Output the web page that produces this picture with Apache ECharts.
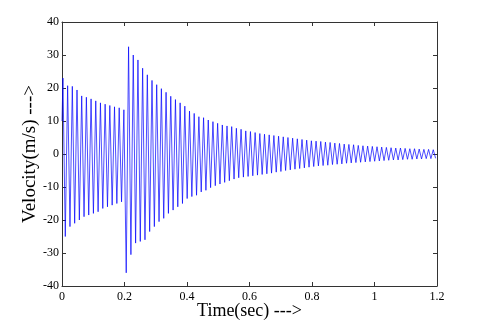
<!DOCTYPE html>
<html>
<head>
<meta charset="utf-8">
<script src="https://cdn.jsdelivr.net/npm/echarts@6/dist/echarts.min.js"></script>
<style>html,body{margin:0;padding:0;background:#fff}#c{width:480px;height:321px}</style>
</head>
<body>
<div id="c"></div>
<script>
// Sampling of the oscillation: extremes alternate peak/trough every half period
const startValue = 10;          // value at t = 0
const firstPeakTime = 0.003;    // s
const halfPeriod = 0.0075;      // s between a peak and the next trough
// Peak value of each cycle (m/s)
const peaks = [23, 20.7, 20.5, 19.4, 17.6, 17.2, 16.7, 16.1, 15.5, 15.1, 14.7, 14.3, 14, 13.4,
  32.5, 30, 28.5, 26, 24, 22.3, 21, 19.8, 18.7, 17.5, 16.5, 15.5, 14.5, 13,
  12.3, 11.3, 11, 10.3, 9.8, 9.3, 8.8, 8.5, 8.3, 7.8, 7.5, 7, 6.8, 6.5,
  6.2, 6.0, 5.8, 5.6, 5.4, 5.2, 5.0, 4.8, 4.6, 4.4, 4.2, 4.0, 3.9, 3.8,
  3.6, 3.5, 3.3, 3.2, 3.0, 2.9, 2.8, 2.6, 2.5, 2.4, 2.3,
  2.2, 2.1, 2.0, 1.9, 1.8, 1.8, 1.7, 1.6, 1.6, 1.5, 1.4, 1.4, 1.3];
// Trough value following each peak (m/s)
const troughs = [-25, -22, -21, -20, -19, -18.5, -18, -17.5, -16.5, -16, -15.5, -15, -14.5,
  -36, -30.5, -27, -26.5, -26, -23.5, -22, -20.5, -19.5, -18, -17, -16, -15, -13.5, -12.9,
  -12.5, -11.5, -11, -10.2, -9.6, -9.1, -8.6, -8.1, -7.6, -7.2, -7, -6.8, -6.6, -6.4,
  -6.2, -6.0, -5.8, -5.5, -5.3, -5.0, -4.8, -4.6, -4.4, -4.2, -4.0, -3.8, -3.6, -3.5,
  -3.4, -3.2, -3.1, -3.0, -2.8, -2.7, -2.6, -2.5, -2.4, -2.3, -2.2,
  -2.1, -2.0, -1.9, -1.8, -1.8, -1.7, -1.6, -1.6, -1.5, -1.5, -1.4, -1.4, -1.3];
const xTicks = [0, 0.2, 0.4, 0.6, 0.8, 1, 1.2];
const yTicks = [-40, -30, -20, -10, 0, 10, 20, 30, 40];

const pts = [[0, startValue]];
for (let k = 0; k < peaks.length; k++) {
  pts.push([firstPeakTime + 2 * k * halfPeriod, peaks[k]]);
  pts.push([firstPeakTime + (2 * k + 1) * halfPeriod, troughs[k]]);
}

const font = 'Liberation Serif';
const axisLine = {show: true, onZero: false, lineStyle: {color: '#333', width: 1}};
const tick = {show: true, inside: true, length: 4, lineStyle: {color: '#333'}};
const chart = echarts.init(document.getElementById('c'), null, {renderer: 'canvas'});
chart.setOption({
  animation: false,
  backgroundColor: '#fff',
  grid: {left: 62, right: 43, top: 22, bottom: 35, outerBoundsMode: 'none', containLabel: false},
  xAxis: [{
    type: 'value', min: xTicks[0], max: xTicks[xTicks.length - 1], interval: 0.2,
    position: 'bottom',
    axisLine: axisLine, axisTick: tick, splitLine: {show: false},
    axisLabel: {color: '#000', fontFamily: font, fontSize: 12, margin: 5},
    name: 'Time(sec) --->', nameLocation: 'middle', nameGap: 16, nameMoveOverlap: false,
    nameTextStyle: {color: '#000', fontFamily: font, fontSize: 18}
  }, {
    type: 'value', min: xTicks[0], max: xTicks[xTicks.length - 1], interval: 0.2,
    position: 'top',
    axisLine: axisLine, axisTick: tick, splitLine: {show: false}, axisLabel: {show: false}
  }],
  yAxis: [{
    type: 'value', min: yTicks[0], max: yTicks[yTicks.length - 1], interval: 10,
    position: 'left',
    axisLine: axisLine, axisTick: tick, splitLine: {show: false},
    axisLabel: {color: '#000', fontFamily: font, fontSize: 12, margin: 3},
    name: 'Velocity(m/s) --->', nameLocation: 'middle', nameGap: 22, nameMoveOverlap: false,
    nameTextStyle: {color: '#000', fontFamily: font, fontSize: 19}
  }, {
    type: 'value', min: yTicks[0], max: yTicks[yTicks.length - 1], interval: 10,
    position: 'right',
    axisLine: axisLine, axisTick: tick, splitLine: {show: false}, axisLabel: {show: false}
  }],
  series: [{
    type: 'line', data: pts, xAxisIndex: 0, yAxisIndex: 0,
    showSymbol: false, symbol: 'none',
    lineStyle: {color: '#0000ff', width: 0.7}
  }]
});
</script>
</body>
</html>
